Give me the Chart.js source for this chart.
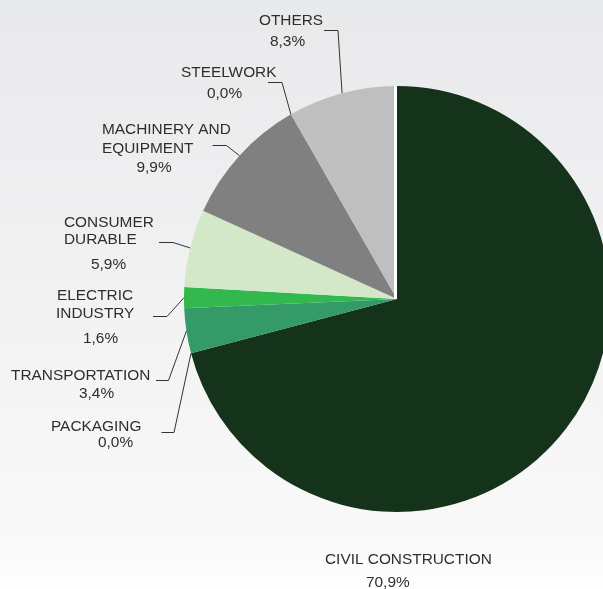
<!DOCTYPE html>
<html>
<head>
<meta charset="utf-8">
<script src="https://cdn.jsdelivr.net/npm/chart.js@4.4.1/dist/chart.umd.min.js"></script>
<style>
  html, body { margin: 0; padding: 0; width: 603px; height: 589px; overflow: hidden; }
  body { background: linear-gradient(to bottom, #e8e9eb 0px, #f9f9f9 538px, #fbfbfb 560px, #fefefe 589px); }
  #wrap { position: absolute; left: 0; top: 0; width: 640px; height: 589px; }
</style>
</head>
<body>
<div id="wrap"><canvas id="c" width="640" height="589"></canvas></div>
<script>
// ---- data ----
const categories = ['CIVIL CONSTRUCTION', 'PACKAGING', 'TRANSPORTATION', 'ELECTRIC\nINDUSTRY',
                    'CONSUMER\nDURABLE', 'MACHINERY AND\nEQUIPMENT', 'STEELWORK', 'OTHERS'];
const shares = [70.9, 0.0, 3.4, 1.6, 5.9, 9.9, 0.0, 8.3];
const sliceColors = ['#15321b', '#2a7a4a', '#339a68', '#33b84e', '#d3e8c8', '#808080', '#9a9a9a', '#bfbfbf'];

// ---- label layout (text anchors and leader elbows, styling only) ----
const labelPos = [
  { name: [[325, 564]], pct: [366, 586.5], leader: null },
  { name: [[51, 431]], pct: [98, 446.5], leader: [161.5, 174, 432.5] },
  { name: [[11, 380]], pct: [79, 398], leader: [156, 168.5, 380.5] },
  { name: [[57, 300], [56, 318]], pct: [83, 343], leader: [153, 167, 316.5] },
  { name: [[64, 227], [64, 244]], pct: [91, 269], leader: [159, 173, 242.5] },
  { name: [[102, 134], [102, 152.5]], pct: [136.5, 171.5], leader: [212.5, 226.5, 145.5] },
  { name: [[181, 77]], pct: [207, 98], leader: [268, 282, 82.5] },
  { name: [[259, 25]], pct: [270, 46], leader: [324, 338, 30.5] }
];

const fmtPct = v => v.toFixed(1).replace('.', ',') + '%';

const labelPlugin = {
  id: 'pieLabels',
  afterDatasetsDraw(chart) {
    const ctx = chart.ctx;
    const arcs = chart.getDatasetMeta(0).data;
    ctx.save();
    // thin white separator at the start of the first slice
    const a0 = arcs[0];
    ctx.strokeStyle = '#ffffff';
    ctx.lineWidth = 3;
    ctx.beginPath();
    ctx.moveTo(a0.x - 1.5, a0.y);
    ctx.lineTo(a0.x - 1.5 + a0.outerRadius * Math.cos(a0.startAngle), a0.y + a0.outerRadius * Math.sin(a0.startAngle));
    ctx.stroke();

    ctx.font = '15.4px "Liberation Sans", Arial, sans-serif';
    ctx.fillStyle = '#2e2e2e';
    ctx.textAlign = 'left';
    ctx.textBaseline = 'alphabetic';
    arcs.forEach((arc, i) => {
      const p = labelPos[i];
      const lines = categories[i].split('\n');
      lines.forEach((t, k) => ctx.fillText(t, p.name[k][0], p.name[k][1]));
      ctx.fillText(fmtPct(shares[i]), p.pct[0], p.pct[1]);
      if (p.leader) {
        const mid = (arc.startAngle + arc.endAngle) / 2;
        const ex = arc.x + arc.outerRadius * Math.cos(mid);
        const ey = arc.y + arc.outerRadius * Math.sin(mid);
        ctx.strokeStyle = '#333333';
        ctx.lineWidth = 1;
        ctx.beginPath();
        ctx.moveTo(p.leader[0], p.leader[2]);
        ctx.lineTo(p.leader[1], p.leader[2]);
        ctx.lineTo(ex, ey);
        ctx.stroke();
      }
    });
    ctx.restore();
  }
};

new Chart(document.getElementById('c'), {
  type: 'pie',
  data: {
    labels: categories,
    datasets: [{
      data: shares,
      backgroundColor: sliceColors,
      borderWidth: 0
    }]
  },
  options: {
    responsive: false,
    animation: false,
    layout: { padding: { left: 184, right: 30, top: 86, bottom: 77 } },
    plugins: { legend: { display: false }, tooltip: { enabled: false } }
  },
  plugins: [labelPlugin]
});
</script>
</body>
</html>
